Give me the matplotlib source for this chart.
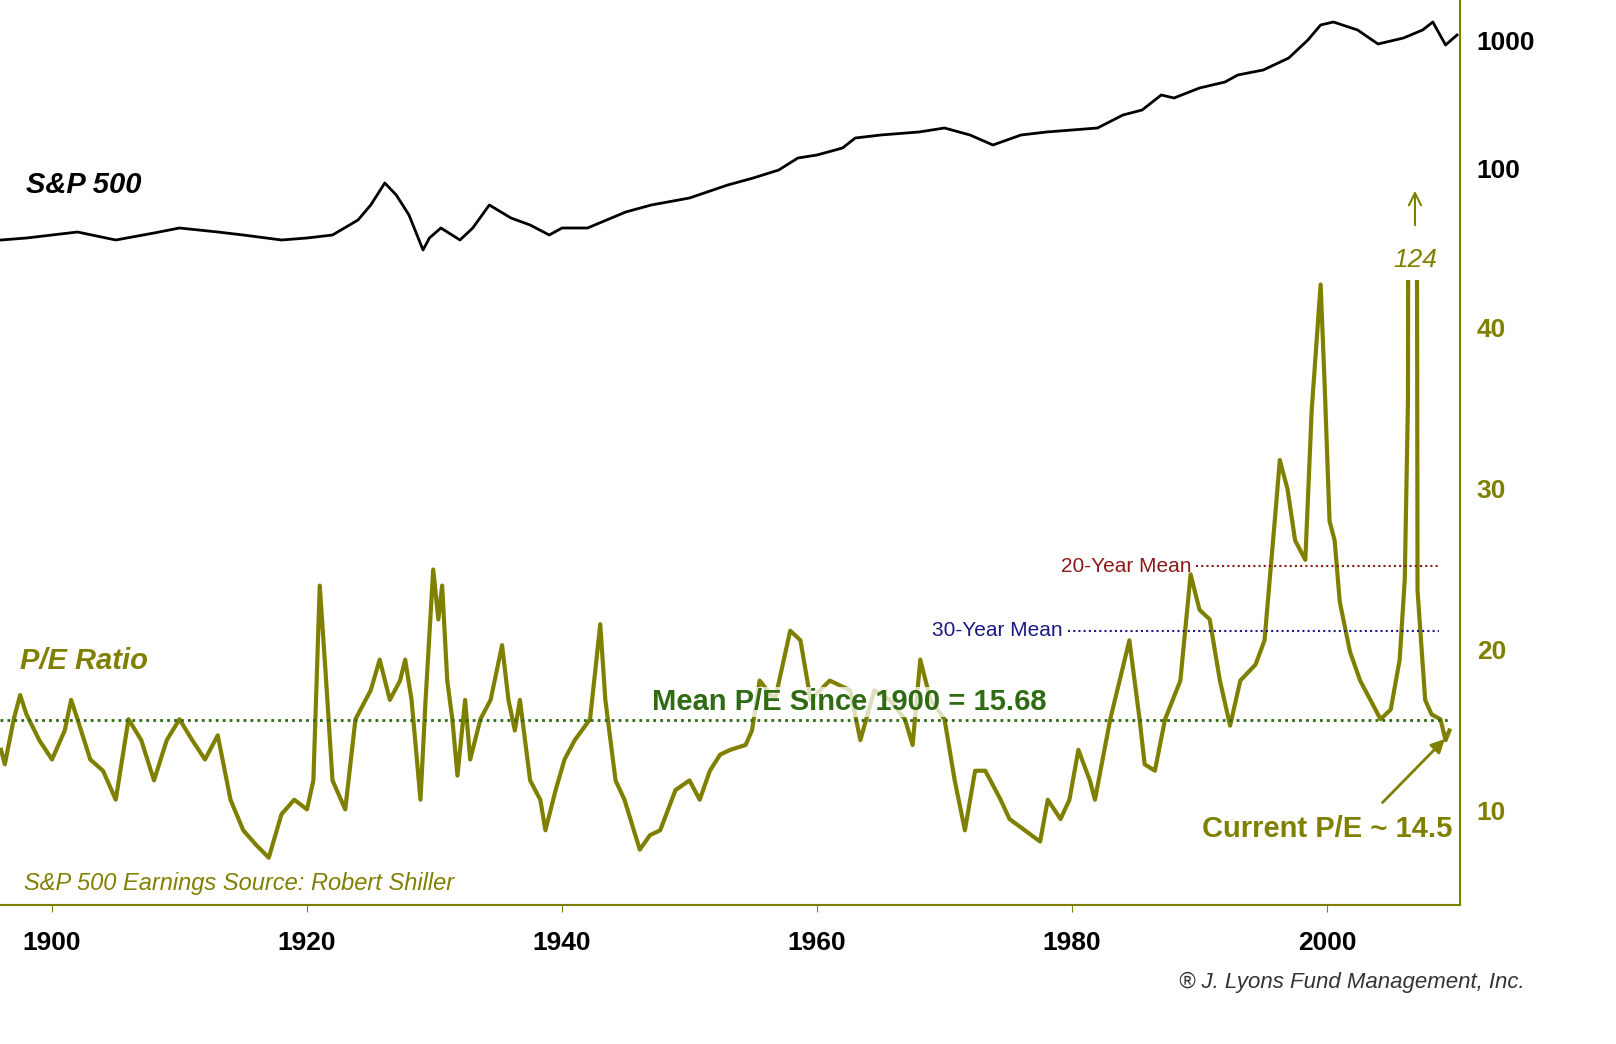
import matplotlib
matplotlib.use("Agg")
import matplotlib.pyplot as plt
import numpy as np
plt.rcParams["font.family"] = "Liberation Sans"

sp_years = [1896,1898,1900,1902,1905,1908,1910,1913,1915,1918,1920,1922,1924,1925,1926.1,1927,1928,1929.1,1929.6,1930.5,1932,1933,1934.3,1936,1937.5,1939,1940,1942,1945,1947,1950,1953,1955,1957,1958.5,1960,1962,1963,1965,1968,1970,1972,1973.8,1976,1978,1980,1982,1984,1985.5,1987,1988,1990,1992,1993,1995,1997,1998.5,1999.5,2000.5,2002.4,2004,2006,2007.5,2008.3,2009.3,2010.2]
sp_values_px = [240,238,235,232,240,233,228,232,235,240,238,235,220,205,183,195,215,250,238,228,240,228,205,218,225,235,228,228,212,205,198,185,178,170,158,155,148,138,135,132,128,135,145,135,132,130,128,115,110,95,98,88,82,75,70,58,40,25,22,30,44,38,30,22,45,35]
sp_values = [10**(3-(p-40)/128) for p in sp_values_px]

pe_years = [1896,1896.3,1897,1897.5,1898,1899,1900,1901,1901.5,1902,1903,1904,1905,1906,1907,1908,1909,1910,1911,1912,1913,1914,1915,1916,1917,1918,1919,1920,1920.5,1921,1921.5,1922,1923,1923.8,1925,1925.7,1926.5,1927.3,1927.7,1928.2,1928.9,1929.3,1929.9,1930.3,1930.6,1931,1931.4,1931.8,1932.4,1932.8,1933.6,1934.4,1935.3,1935.8,1936.3,1936.7,1937.5,1938.3,1938.7,1939.5,1940.2,1941,1942.2,1943,1943.4,1944.2,1944.9,1946.1,1946.9,1947.7,1948.9,1950,1950.8,1951.6,1952.4,1953.2,1954.4,1954.9,1955.5,1956.7,1957.9,1958.7,1959.5,1961,1962.6,1963.4,1964.5,1965.7,1966.9,1967.5,1968.1,1968.9,1970,1970.8,1971.6,1972.4,1973.2,1974.4,1975.1,1976.3,1977.5,1978.1,1979.1,1979.8,1980.5,1981.4,1981.8,1983,1984.5,1985.3,1985.7,1986.5,1987.3,1988.5,1989.3,1990,1990.8,1991.6,1992.4,1993.2,1994.4,1995.1,1995.9,1996.3,1996.9,1997.5,1998.3,1998.8,1999.5,1999.8,2000.2,2000.6,2001,2001.8,2002.6,2003.4,2004.2,2005,2005.7,2006.1,2006.35,2006.5,2006.9,2007.1,2007.7,2008.2,2008.9,2009.3,2009.6]
pe_values = [13.8,12.9,15.7,17.2,16.0,14.4,13.2,15.0,16.9,15.7,13.2,12.5,10.7,15.7,14.4,11.9,14.4,15.7,14.4,13.2,14.7,10.7,8.8,7.9,7.1,9.8,10.7,10.1,11.9,24.0,18.1,11.9,10.1,15.7,17.5,19.4,16.9,18.1,19.4,16.9,10.7,16.9,25.0,21.9,24.0,18.1,15.7,12.2,16.9,13.2,15.7,16.9,20.3,16.9,15.0,16.9,11.9,10.7,8.8,11.3,13.2,14.4,15.7,21.6,16.9,11.9,10.7,7.6,8.5,8.8,11.3,11.9,10.7,12.5,13.5,13.8,14.1,15.0,18.1,16.9,21.2,20.6,16.9,18.1,17.5,14.4,17.5,16.9,15.7,14.1,19.4,16.9,15.7,11.9,8.8,12.5,12.5,10.7,9.5,8.8,8.1,10.7,9.5,10.7,13.8,11.9,10.7,15.7,20.6,15.7,12.9,12.5,15.7,18.1,24.7,22.5,21.9,18.1,15.3,18.1,19.1,20.6,28.0,31.8,30.0,26.8,25.6,34.9,42.7,36.8,28.0,26.8,23.0,19.9,18.1,16.9,15.7,16.3,19.4,24.4,35.5,124,124,23.7,16.9,16.0,15.7,14.4,15.0]

x_ticks = [1900,1920,1940,1960,1980,2000]
sp_ticks = [100,1000]
pe_ticks = [10,20,30,40]
mean_pe = 15.68

OLIVE = "#808000"
fig = plt.figure(figsize=(16.16,10.44), dpi=100)
W, H = 1616, 1044
x0, x1 = 1900-52/12.75, 1900+(1460-52)/12.75
left, right = 0, 1460/W
bot = 1-905/H

ax = fig.add_axes([left, bot, right-left, 1-bot])
ax.set_xlim(x0, x1)
ax.set_yscale("log")
ax.set_ylim(10**(3-(905-40)/128), 10**(3+40/128))
ax.plot(sp_years, sp_values, color="black", lw=2)
for s in ["top","left"]:
    ax.spines[s].set_visible(False)
ax.spines["right"].set_color(OLIVE); ax.spines["right"].set_linewidth(1.5)
ax.spines["bottom"].set_color(OLIVE); ax.spines["bottom"].set_linewidth(1.5)
ax.yaxis.tick_right()
ax.set_yticks(sp_ticks); ax.set_yticklabels(["100","1000"])
ax.minorticks_off()
ax.tick_params(axis="y", length=0, labelsize=19, pad=12)
for t in ax.get_yticklabels(): t.set_fontweight("bold")
ax.set_xticks(x_ticks)
ax.tick_params(axis="x", length=5, color=OLIVE, labelsize=19, pad=14)
for t in ax.get_xticklabels(): t.set_fontweight("bold")
ax.text(1898.0, 10**(3-(185-40)/128), "S&P 500", fontsize=21, fontweight="bold", style="italic", va="center")

pe_top = 10+(811-280)/16.1
pe_bot = 10-(905-811)/16.1
ax2 = fig.add_axes([left, bot, right-left, (905-280)/H])
ax2.patch.set_visible(False)
ax2.set_xlim(x0, x1); ax2.set_ylim(pe_bot, pe_top)
for s in ax2.spines.values(): s.set_visible(False)
ax2.set_xticks([])
ax2.yaxis.tick_right()
ax2.set_yticks(pe_ticks)
ax2.tick_params(axis="y", length=0, labelsize=19, pad=12, labelcolor=OLIVE)
for t in ax2.get_yticklabels(): t.set_fontweight("bold")
ax2.plot(pe_years, pe_values, color=OLIVE, lw=3)
ax2.plot([x0, 2009.6], [mean_pe]*2, color="#2e6b12", lw=2, ls=(0,(1,1.5)))
ax2.plot([1989.7, 2008.8], [25.2]*2, color="#8b1a1a", lw=1.5, ls=(0,(1,1.5)))
ax2.plot([1979.7, 2008.8], [21.2]*2, color="#1a1a80", lw=1.5, ls=(0,(1,1.5)))
ax2.text(1989.4, 25.2, "20-Year Mean", color="#8b1a1a", fontsize=15, ha="right", va="center")
ax2.text(1979.3, 21.2, "30-Year Mean", color="#1a1a80", fontsize=15, ha="right", va="center")
ax2.text(1962.5, 15.9, "Mean P/E Since 1900 = 15.68", color="#2e6b12", fontsize=21, fontweight="bold",
         ha="center", va="bottom", bbox=dict(facecolor="white", edgecolor="none", alpha=0.75, pad=1))
ax2.text(1897.5, 19.3, "P/E Ratio", color=OLIVE, fontsize=21, fontweight="bold", style="italic", va="center")
ax2.text(1897.8, 5.5, "S&P 500 Earnings Source: Robert Shiller", color=OLIVE, fontsize=17, style="italic", va="center")
ax2.text(2000.0, 8.9, "Current P/E ~ 14.5", color=OLIVE, fontsize=21, fontweight="bold", ha="center", va="center")
ax2.annotate("", xy=(2009.4, 14.6), xytext=(2004.2, 10.4),
             arrowprops=dict(arrowstyle="-|>", color=OLIVE, lw=2, mutation_scale=20))

ax.annotate("", xy=(2006.9, 10**(3-(188-40)/128)), xytext=(2006.9, 10**(3-(228-40)/128)),
            arrowprops=dict(arrowstyle="->", color=OLIVE, lw=1.5, mutation_scale=22))
ax.text(2006.9, 10**(3-(260-40)/128), "124", color=OLIVE, fontsize=19, style="italic", ha="center", va="center")

fig.text(1525/W, 1-982/H, "® J. Lyons Fund Management, Inc.", fontsize=16, style="italic", ha="right", va="center", color="#333333")
fig.savefig("out.png", dpi=100)
